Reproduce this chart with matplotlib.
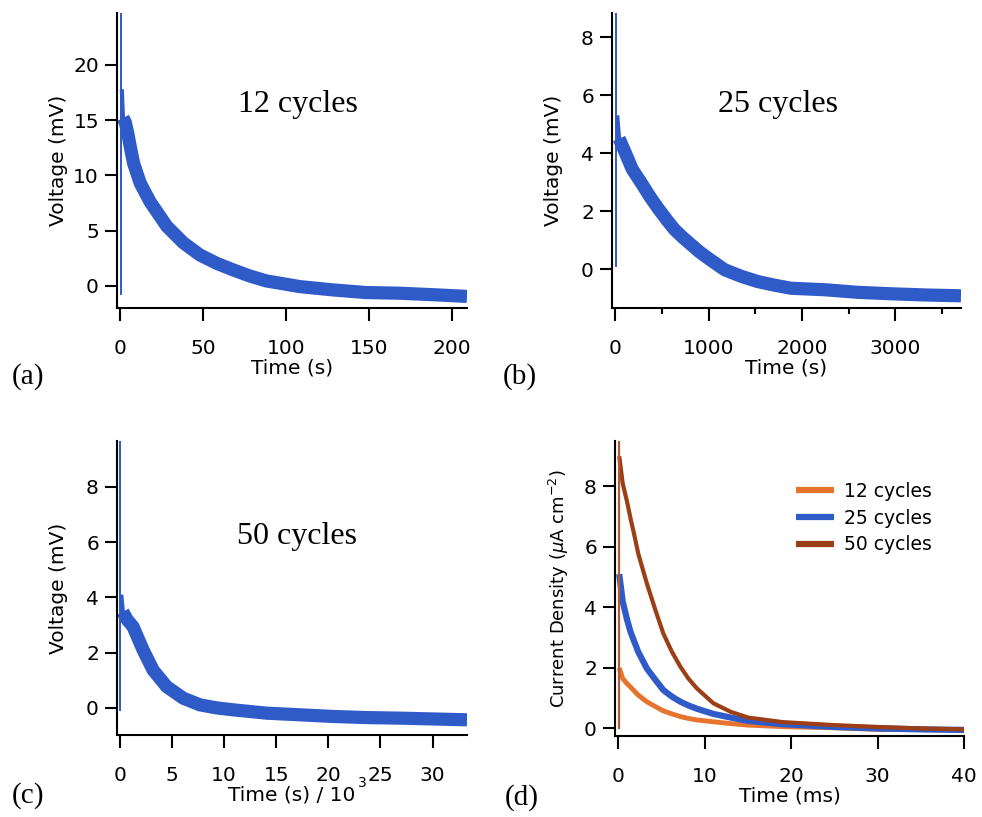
import matplotlib.pyplot as plt
from matplotlib.ticker import MultipleLocator

# decay transients, read at a handful of times along each trace
a_time = [0.9, 1.6, 3.0, 4.5, 6, 8, 12, 18, 28, 38, 48, 58, 68, 78, 88, 98,
          108, 128, 148, 168, 189, 209]
a_volt = [17.8, 15.2, 14.8, 13.8, 12.6, 11.1, 9.3, 7.6, 5.4, 3.9, 2.8, 2.05,
          1.45, 0.9, 0.45, 0.2, -0.06, -0.36, -0.6, -0.66, -0.8, -0.95]
a_spike_t = [0.4, 0.4]
a_spike_v = [-0.7, 26]

b_time = [20, 40, 100, 180, 278, 370, 457, 550, 635, 720, 813, 900, 992,
          1170, 1350, 1527, 1700, 1884, 2240, 2597, 2954, 3311, 3703]
b_volt = [5.3, 4.5, 4.06, 3.45, 2.97, 2.5, 2.1, 1.7, 1.36, 1.1, 0.84, 0.6,
          0.38, -0.02, -0.25, -0.43, -0.55, -0.66, -0.71, -0.8, -0.85, -0.89,
          -0.92]
b_spike_t = [8, 8]
b_spike_v = [0.1, 9.5]

c_time = [0.15, 0.3, 0.7, 1.28, 2.24, 3.2, 4.5, 6.1, 7.7, 9.3, 10.9, 14.1,
          17.3, 20.5, 23.7, 26.9, 30.1, 33.3]
c_volt = [4.1, 3.48, 3.2, 2.94, 2.1, 1.37, 0.77, 0.35, 0.11, 0.0, -0.07,
          -0.19, -0.25, -0.31, -0.35, -0.37, -0.4, -0.43]
c_spike_t = [0.06, 0.06]
c_spike_v = [-0.07, 10]

d_time = [0.1, 0.5, 1.0, 1.4, 1.8, 2.3, 3.3, 4.3, 5.2, 6.2, 7.2, 8.1, 9.1,
          11, 13, 15, 19, 25, 30, 35, 40]
d_12 = [2.0, 1.65, 1.48, 1.37, 1.25, 1.1, 0.88, 0.72, 0.58, 0.48, 0.39,
        0.33, 0.28, 0.22, 0.16, 0.11, 0.06, 0.02, -0.03, -0.04, -0.05]
d_25 = [5.1, 4.2, 3.6, 3.2, 2.9, 2.53, 1.98, 1.6, 1.27, 1.05, 0.88, 0.76,
        0.65, 0.48, 0.36, 0.25, 0.14, 0.05, 0.0, -0.03, -0.05]
d_50 = [9.0, 8.1, 7.5, 6.95, 6.45, 5.78, 4.79, 3.9, 3.14, 2.53, 2.03, 1.65,
        1.32, 0.83, 0.55, 0.36, 0.21, 0.11, 0.05, 0.0, -0.03]
d_spike_t = [0.05, 0.05]
d_spike_v = [0, 10]

d_labels = ['12 cycles', '25 cycles', '50 cycles']

blue = '#2f5bc9'
orange = '#e8732c'
brown = '#9c3f17'

plt.rcParams['font.family'] = 'DejaVu Sans'
plt.rcParams['font.size'] = 14.5

fig = plt.figure(figsize=(9.82, 8.17), dpi=100)
W, H = 982, 817
serif = 'Liberation Serif'


def add_panel(left, top, right, bottom):
    ax = fig.add_axes([left / W, 1 - bottom / H, (right - left) / W,
                       (bottom - top) / H])
    ax.spines[['top', 'right']].set_visible(False)
    ax.spines[['left', 'bottom']].set_linewidth(1.5)
    ax.tick_params(direction='out', length=9, width=1.5, labelsize=14.5)
    ax.tick_params(axis='x', pad=13)
    ax.tick_params(axis='y', pad=4)
    return ax


def draw_trace(ax, t, v, spike_t, spike_v):
    # thin vertical step at t=0, a thin tip on the peak, then the noisy band
    ax.plot(spike_t, spike_v, color=blue, lw=1.4)
    ax.plot(t[:3], v[:3], color=blue, lw=3, solid_capstyle='butt')
    ax.plot(t[1:], v[1:], color=blue, lw=9.5, solid_capstyle='butt',
            solid_joinstyle='round')


# (a) 12 cycles
ax = add_panel(117, 13, 467, 308)
draw_trace(ax, a_time, a_volt, a_spike_t, a_spike_v)
ax.set_xlim(-2, 209)
ax.set_ylim(-2, 24.7)
ax.set_xticks([0, 50, 100, 150, 200])
ax.set_yticks([0, 5, 10, 15, 20])
ax.set_xlabel('Time (s)')
ax.set_ylabel('Voltage (mV)')
ax.xaxis.set_label_coords(0.5, -0.172)
ax.yaxis.set_label_coords(-0.14, 0.5)
ax.text(0.346, 0.664, '12 cycles', transform=ax.transAxes, family=serif,
        fontsize=23, va='baseline')

# (b) 25 cycles
ax = add_panel(612, 13, 961, 308)
draw_trace(ax, b_time, b_volt, b_spike_t, b_spike_v)
ax.set_xlim(-36, 3703)
ax.set_ylim(-1.34, 8.83)
ax.set_xticks([0, 1000, 2000, 3000])
ax.xaxis.set_minor_locator(MultipleLocator(500))
ax.tick_params(axis='x', which='minor', length=4, width=1.5)
ax.set_yticks([0, 2, 4, 6, 8])
ax.set_xlabel('Time (s)')
ax.set_ylabel('Voltage (mV)')
ax.xaxis.set_label_coords(0.5, -0.172)
ax.yaxis.set_label_coords(-0.14, 0.5)
ax.text(0.303, 0.665, '25 cycles', transform=ax.transAxes, family=serif,
        fontsize=23, va='baseline')

# (c) 50 cycles
ax = add_panel(117, 441, 467, 735)
draw_trace(ax, c_time, c_volt, c_spike_t, c_spike_v)
ax.set_xlim(-0.26, 33.3)
ax.set_ylim(-0.98, 9.66)
ax.set_xticks([0, 5, 10, 15, 20, 25, 30])
ax.set_yticks([0, 2, 4, 6, 8])
ax.set_xlabel('Time (s) / 10')
ax.set_ylabel('Voltage (mV)')
ax.xaxis.set_label_coords(0.5, -0.172)
ax.yaxis.set_label_coords(-0.14, 0.5)
ax.text(0.688, -0.177, '3', transform=ax.transAxes, fontsize=10,
        va='baseline', clip_on=False)
ax.text(0.343, 0.649, '50 cycles', transform=ax.transAxes, family=serif,
        fontsize=23, va='baseline')

# (d) current density for the three cycle counts
ax = add_panel(615, 441, 964, 736)
for vals, col, lw, lab in zip([d_12, d_25, d_50], [orange, blue, brown],
                              [3.5, 4.5, 3.0], d_labels):
    ax.plot(d_time, vals, color=col, lw=lw, label=lab,
            solid_capstyle='butt', solid_joinstyle='round')
ax.plot(d_spike_t, d_spike_v, color='#b05a36', lw=1.6)
ax.set_xlim(-0.39, 40)
ax.set_ylim(-0.25, 9.5)
ax.set_xticks([0, 10, 20, 30, 40])
ax.set_yticks([0, 2, 4, 6, 8])
ax.set_xlabel('Time (ms)')
ax.set_ylabel(r'Current Density ($\mu$A cm$^{-2}$)', fontsize=13)
ax.xaxis.set_label_coords(0.5, -0.172)
ax.yaxis.set_label_coords(-0.126, 0.5)
leg = ax.legend(loc='upper left', bbox_to_anchor=(0.52, 0.862),
                frameon=False, fontsize=13.5, handlelength=2.0,
                handletextpad=0.55, labelspacing=0.42, borderpad=0,
                borderaxespad=0)
for h in leg.legend_handles:
    h.set_linewidth(4.5)

# panel letters
for x, y, s in [(0.012, 0.531, '(a)'), (0.512, 0.531, '(b)'),
                (0.012, 0.017, '(c)'), (0.5136, 0.015, '(d)')]:
    fig.text(x, y, s, family=serif, fontsize=21, va='baseline')

fig.savefig('out.png', dpi=100)
